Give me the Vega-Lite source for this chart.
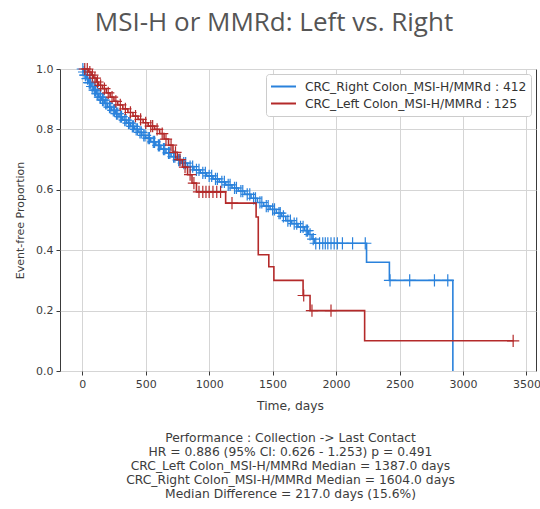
{
  "$schema": "https://vega.github.io/schema/vega-lite/v6.json",
  "width": 476,
  "height": 302,
  "autosize": {"type": "none"},
  "padding": {"left": 60, "top": 69, "right": 4, "bottom": 138},
  "background": "white",
  "title": {
    "text": "MSI-H or MMRd: Left vs. Right",
    "font": "Open Sans",
    "fontSize": 26,
    "fontWeight": "normal",
    "color": "#555555",
    "anchor": "middle",
    "frame": "group",
    "dx": -24,
    "offset": 24
  },
  "config": {
    "view": {"stroke": "#3a3a3a", "strokeWidth": 1},
    "axis": {
      "labelFont": "DejaVu Sans",
      "titleFont": "DejaVu Sans",
      "labelFontSize": 11,
      "titleFontSize": 11,
      "titleFontWeight": "normal",
      "labelColor": "#3c3c3c",
      "titleColor": "#3c3c3c",
      "gridColor": "#d5d5d5",
      "gridWidth": 1,
      "tickColor": "#3a3a3a",
      "tickSize": 4,
      "domain": false
    }
  },
  "datasets": {
    "steps": [
      {"group": "Right", "t": 0, "s": 1.0},
      {"group": "Right", "t": 10, "s": 0.99},
      {"group": "Right", "t": 20, "s": 0.98},
      {"group": "Right", "t": 35, "s": 0.968},
      {"group": "Right", "t": 50, "s": 0.955},
      {"group": "Right", "t": 70, "s": 0.942},
      {"group": "Right", "t": 90, "s": 0.93},
      {"group": "Right", "t": 110, "s": 0.918},
      {"group": "Right", "t": 130, "s": 0.907},
      {"group": "Right", "t": 150, "s": 0.897},
      {"group": "Right", "t": 175, "s": 0.886},
      {"group": "Right", "t": 200, "s": 0.874},
      {"group": "Right", "t": 230, "s": 0.863},
      {"group": "Right", "t": 260, "s": 0.852},
      {"group": "Right", "t": 290, "s": 0.842},
      {"group": "Right", "t": 320, "s": 0.831},
      {"group": "Right", "t": 350, "s": 0.821},
      {"group": "Right", "t": 380, "s": 0.81},
      {"group": "Right", "t": 410, "s": 0.8},
      {"group": "Right", "t": 440, "s": 0.79},
      {"group": "Right", "t": 470, "s": 0.78},
      {"group": "Right", "t": 500, "s": 0.771},
      {"group": "Right", "t": 540, "s": 0.759},
      {"group": "Right", "t": 580, "s": 0.747},
      {"group": "Right", "t": 620, "s": 0.735},
      {"group": "Right", "t": 660, "s": 0.722},
      {"group": "Right", "t": 700, "s": 0.71},
      {"group": "Right", "t": 740, "s": 0.698},
      {"group": "Right", "t": 780, "s": 0.688},
      {"group": "Right", "t": 830, "s": 0.677},
      {"group": "Right", "t": 880, "s": 0.666},
      {"group": "Right", "t": 930, "s": 0.656},
      {"group": "Right", "t": 980, "s": 0.646},
      {"group": "Right", "t": 1030, "s": 0.636},
      {"group": "Right", "t": 1080, "s": 0.626},
      {"group": "Right", "t": 1130, "s": 0.616},
      {"group": "Right", "t": 1180, "s": 0.606},
      {"group": "Right", "t": 1230, "s": 0.596},
      {"group": "Right", "t": 1280, "s": 0.585},
      {"group": "Right", "t": 1330, "s": 0.572},
      {"group": "Right", "t": 1380, "s": 0.558},
      {"group": "Right", "t": 1430, "s": 0.546},
      {"group": "Right", "t": 1480, "s": 0.535},
      {"group": "Right", "t": 1530, "s": 0.523},
      {"group": "Right", "t": 1570, "s": 0.512},
      {"group": "Right", "t": 1604, "s": 0.498},
      {"group": "Right", "t": 1650, "s": 0.488},
      {"group": "Right", "t": 1700, "s": 0.477},
      {"group": "Right", "t": 1750, "s": 0.465},
      {"group": "Right", "t": 1785, "s": 0.452},
      {"group": "Right", "t": 1810, "s": 0.437},
      {"group": "Right", "t": 1830, "s": 0.423},
      {"group": "Right", "t": 2240, "s": 0.36},
      {"group": "Right", "t": 2420, "s": 0.3},
      {"group": "Right", "t": 2920, "s": 0.0},
      {"group": "Left", "t": 0, "s": 1.0},
      {"group": "Left", "t": 50, "s": 0.99},
      {"group": "Left", "t": 70, "s": 0.98},
      {"group": "Left", "t": 90, "s": 0.97},
      {"group": "Left", "t": 110, "s": 0.957},
      {"group": "Left", "t": 130, "s": 0.946},
      {"group": "Left", "t": 160, "s": 0.935},
      {"group": "Left", "t": 190, "s": 0.921},
      {"group": "Left", "t": 220, "s": 0.907},
      {"group": "Left", "t": 250, "s": 0.893},
      {"group": "Left", "t": 280, "s": 0.881},
      {"group": "Left", "t": 320, "s": 0.868},
      {"group": "Left", "t": 360, "s": 0.856},
      {"group": "Left", "t": 400, "s": 0.844},
      {"group": "Left", "t": 440, "s": 0.833},
      {"group": "Left", "t": 480, "s": 0.822},
      {"group": "Left", "t": 520, "s": 0.811},
      {"group": "Left", "t": 570, "s": 0.8},
      {"group": "Left", "t": 610, "s": 0.786},
      {"group": "Left", "t": 645, "s": 0.768},
      {"group": "Left", "t": 680, "s": 0.748},
      {"group": "Left", "t": 715, "s": 0.724},
      {"group": "Left", "t": 750, "s": 0.7},
      {"group": "Left", "t": 790, "s": 0.675},
      {"group": "Left", "t": 830, "s": 0.65},
      {"group": "Left", "t": 865, "s": 0.622},
      {"group": "Left", "t": 900, "s": 0.593},
      {"group": "Left", "t": 1130, "s": 0.556},
      {"group": "Left", "t": 1370, "s": 0.51},
      {"group": "Left", "t": 1387, "s": 0.385},
      {"group": "Left", "t": 1470, "s": 0.345},
      {"group": "Left", "t": 1510, "s": 0.3},
      {"group": "Left", "t": 1740, "s": 0.25},
      {"group": "Left", "t": 1795, "s": 0.2},
      {"group": "Left", "t": 2225, "s": 0.1},
      {"group": "Left", "t": 3400, "s": 0.1}
    ],
    "censors": [
      {"group": "Right", "t": 5, "s": 1.0},
      {"group": "Right", "t": 15, "s": 0.99},
      {"group": "Right", "t": 25, "s": 0.98},
      {"group": "Right", "t": 28, "s": 0.98},
      {"group": "Right", "t": 42, "s": 0.968},
      {"group": "Right", "t": 55, "s": 0.955},
      {"group": "Right", "t": 60, "s": 0.955},
      {"group": "Right", "t": 65, "s": 0.955},
      {"group": "Right", "t": 78, "s": 0.942},
      {"group": "Right", "t": 85, "s": 0.942},
      {"group": "Right", "t": 98, "s": 0.93},
      {"group": "Right", "t": 105, "s": 0.93},
      {"group": "Right", "t": 118, "s": 0.918},
      {"group": "Right", "t": 125, "s": 0.918},
      {"group": "Right", "t": 140, "s": 0.907},
      {"group": "Right", "t": 145, "s": 0.907},
      {"group": "Right", "t": 160, "s": 0.897},
      {"group": "Right", "t": 170, "s": 0.897},
      {"group": "Right", "t": 185, "s": 0.886},
      {"group": "Right", "t": 195, "s": 0.886},
      {"group": "Right", "t": 215, "s": 0.874},
      {"group": "Right", "t": 225, "s": 0.874},
      {"group": "Right", "t": 245, "s": 0.863},
      {"group": "Right", "t": 255, "s": 0.863},
      {"group": "Right", "t": 270, "s": 0.852},
      {"group": "Right", "t": 280, "s": 0.852},
      {"group": "Right", "t": 300, "s": 0.842},
      {"group": "Right", "t": 310, "s": 0.842},
      {"group": "Right", "t": 335, "s": 0.831},
      {"group": "Right", "t": 345, "s": 0.831},
      {"group": "Right", "t": 365, "s": 0.821},
      {"group": "Right", "t": 375, "s": 0.821},
      {"group": "Right", "t": 395, "s": 0.81},
      {"group": "Right", "t": 405, "s": 0.81},
      {"group": "Right", "t": 425, "s": 0.8},
      {"group": "Right", "t": 435, "s": 0.8},
      {"group": "Right", "t": 455, "s": 0.79},
      {"group": "Right", "t": 465, "s": 0.79},
      {"group": "Right", "t": 485, "s": 0.78},
      {"group": "Right", "t": 495, "s": 0.78},
      {"group": "Right", "t": 520, "s": 0.771},
      {"group": "Right", "t": 530, "s": 0.771},
      {"group": "Right", "t": 560, "s": 0.759},
      {"group": "Right", "t": 570, "s": 0.759},
      {"group": "Right", "t": 600, "s": 0.747},
      {"group": "Right", "t": 610, "s": 0.747},
      {"group": "Right", "t": 640, "s": 0.735},
      {"group": "Right", "t": 650, "s": 0.735},
      {"group": "Right", "t": 680, "s": 0.722},
      {"group": "Right", "t": 690, "s": 0.722},
      {"group": "Right", "t": 720, "s": 0.71},
      {"group": "Right", "t": 730, "s": 0.71},
      {"group": "Right", "t": 760, "s": 0.698},
      {"group": "Right", "t": 770, "s": 0.698},
      {"group": "Right", "t": 800, "s": 0.688},
      {"group": "Right", "t": 815, "s": 0.688},
      {"group": "Right", "t": 850, "s": 0.677},
      {"group": "Right", "t": 870, "s": 0.677},
      {"group": "Right", "t": 900, "s": 0.666},
      {"group": "Right", "t": 920, "s": 0.666},
      {"group": "Right", "t": 950, "s": 0.656},
      {"group": "Right", "t": 970, "s": 0.656},
      {"group": "Right", "t": 1000, "s": 0.646},
      {"group": "Right", "t": 1020, "s": 0.646},
      {"group": "Right", "t": 1050, "s": 0.636},
      {"group": "Right", "t": 1065, "s": 0.636},
      {"group": "Right", "t": 1100, "s": 0.626},
      {"group": "Right", "t": 1120, "s": 0.626},
      {"group": "Right", "t": 1150, "s": 0.616},
      {"group": "Right", "t": 1165, "s": 0.616},
      {"group": "Right", "t": 1200, "s": 0.606},
      {"group": "Right", "t": 1215, "s": 0.606},
      {"group": "Right", "t": 1250, "s": 0.596},
      {"group": "Right", "t": 1265, "s": 0.596},
      {"group": "Right", "t": 1300, "s": 0.585},
      {"group": "Right", "t": 1320, "s": 0.585},
      {"group": "Right", "t": 1350, "s": 0.572},
      {"group": "Right", "t": 1365, "s": 0.572},
      {"group": "Right", "t": 1400, "s": 0.558},
      {"group": "Right", "t": 1415, "s": 0.558},
      {"group": "Right", "t": 1450, "s": 0.546},
      {"group": "Right", "t": 1465, "s": 0.546},
      {"group": "Right", "t": 1500, "s": 0.535},
      {"group": "Right", "t": 1515, "s": 0.535},
      {"group": "Right", "t": 1550, "s": 0.523},
      {"group": "Right", "t": 1560, "s": 0.523},
      {"group": "Right", "t": 1585, "s": 0.512},
      {"group": "Right", "t": 1620, "s": 0.498},
      {"group": "Right", "t": 1640, "s": 0.498},
      {"group": "Right", "t": 1670, "s": 0.488},
      {"group": "Right", "t": 1690, "s": 0.488},
      {"group": "Right", "t": 1720, "s": 0.477},
      {"group": "Right", "t": 1740, "s": 0.477},
      {"group": "Right", "t": 1765, "s": 0.465},
      {"group": "Right", "t": 1775, "s": 0.465},
      {"group": "Right", "t": 1795, "s": 0.452},
      {"group": "Right", "t": 1820, "s": 0.437},
      {"group": "Right", "t": 1840, "s": 0.423},
      {"group": "Right", "t": 1870, "s": 0.423},
      {"group": "Right", "t": 1895, "s": 0.423},
      {"group": "Right", "t": 1915, "s": 0.423},
      {"group": "Right", "t": 1935, "s": 0.423},
      {"group": "Right", "t": 1960, "s": 0.423},
      {"group": "Right", "t": 1985, "s": 0.423},
      {"group": "Right", "t": 2010, "s": 0.423},
      {"group": "Right", "t": 2050, "s": 0.423},
      {"group": "Right", "t": 2130, "s": 0.423},
      {"group": "Right", "t": 2230, "s": 0.423},
      {"group": "Right", "t": 2425, "s": 0.3},
      {"group": "Right", "t": 2580, "s": 0.3},
      {"group": "Right", "t": 2775, "s": 0.3},
      {"group": "Right", "t": 2880, "s": 0.3},
      {"group": "Left", "t": 20, "s": 1.0},
      {"group": "Left", "t": 40, "s": 1.0},
      {"group": "Left", "t": 60, "s": 0.99},
      {"group": "Left", "t": 80, "s": 0.98},
      {"group": "Left", "t": 100, "s": 0.97},
      {"group": "Left", "t": 120, "s": 0.957},
      {"group": "Left", "t": 145, "s": 0.946},
      {"group": "Left", "t": 175, "s": 0.935},
      {"group": "Left", "t": 205, "s": 0.921},
      {"group": "Left", "t": 235, "s": 0.907},
      {"group": "Left", "t": 265, "s": 0.893},
      {"group": "Left", "t": 300, "s": 0.881},
      {"group": "Left", "t": 340, "s": 0.868},
      {"group": "Left", "t": 380, "s": 0.856},
      {"group": "Left", "t": 420, "s": 0.844},
      {"group": "Left", "t": 460, "s": 0.833},
      {"group": "Left", "t": 500, "s": 0.822},
      {"group": "Left", "t": 540, "s": 0.811},
      {"group": "Left", "t": 555, "s": 0.811},
      {"group": "Left", "t": 590, "s": 0.8},
      {"group": "Left", "t": 630, "s": 0.786},
      {"group": "Left", "t": 660, "s": 0.768},
      {"group": "Left", "t": 700, "s": 0.748},
      {"group": "Left", "t": 735, "s": 0.724},
      {"group": "Left", "t": 770, "s": 0.7},
      {"group": "Left", "t": 810, "s": 0.675},
      {"group": "Left", "t": 850, "s": 0.65},
      {"group": "Left", "t": 880, "s": 0.622},
      {"group": "Left", "t": 920, "s": 0.593},
      {"group": "Left", "t": 950, "s": 0.593},
      {"group": "Left", "t": 975, "s": 0.593},
      {"group": "Left", "t": 1000, "s": 0.593},
      {"group": "Left", "t": 1030, "s": 0.593},
      {"group": "Left", "t": 1060, "s": 0.593},
      {"group": "Left", "t": 1090, "s": 0.593},
      {"group": "Left", "t": 1180, "s": 0.556},
      {"group": "Left", "t": 1745, "s": 0.25},
      {"group": "Left", "t": 1810, "s": 0.2},
      {"group": "Left", "t": 1960, "s": 0.2},
      {"group": "Left", "t": 3395, "s": 0.1}
    ]
  },
  "encoding": {
    "y": {
      "field": "s",
      "type": "quantitative",
      "scale": {"domain": [0, 1], "nice": false},
      "axis": {
        "values": [0, 0.2, 0.4, 0.6, 0.8, 1.0],
        "format": ".1f",
        "labelPadding": 3,
        "titlePadding": 10,
        "title": "Event-free Proportion"
      }
    },
    "color": {
      "field": "group",
      "type": "nominal",
      "scale": {"domain": ["Right", "Left"], "range": ["#2a82dc", "#b42a2a"]},
      "legend": {
        "title": null,
        "orient": "top-right",
        "offset": 5,
        "symbolType": "stroke",
        "symbolSize": 625,
        "symbolStrokeWidth": 2,
        "clipHeight": 17,
        "labelFont": "DejaVu Sans",
        "labelFontSize": 12.3,
        "labelColor": "#333333",
        "labelLimit": 400,
        "labelOffset": 8,
        "fillColor": "white",
        "strokeColor": "#cccccc",
        "padding": 4,
        "cornerRadius": 3,
        "rowPadding": 0,
        "labelExpr": "datum.label == 'Right' ? 'CRC_Right Colon_MSI-H/MMRd : 412' : 'CRC_Left Colon_MSI-H/MMRd : 125'"
      }
    }
  },
  "resolve": {"axis": {"x": "independent"}},
  "layer": [
    {
      "encoding": {
        "x": {
          "field": "t",
          "type": "quantitative",
          "scale": {"domain": [-175, 3575], "nice": false, "zero": false},
          "axis": {
            "orient": "bottom",
            "values": [0, 500, 1000, 1500, 2000, 2500, 3000, 3500],
            "format": "d",
            "labelPadding": 3,
            "titlePadding": 10,
            "titleFontSize": 12.3,
            "titleX": 230,
            "title": "Time, days"
          }
        }
      },
      "layer": [
        {
          "data": {"name": "steps"},
          "transform": [{"filter": "datum.group == 'Right'"}],
          "mark": {"type": "line", "interpolate": "step-after", "strokeWidth": 1.6}
        },
        {
          "data": {"name": "censors"},
          "transform": [{"filter": "datum.group == 'Right'"}],
          "mark": {"type": "point", "shape": "M-1,0H1M0,-1V1", "size": 150, "filled": false, "strokeWidth": 1.2, "opacity": 1}
        },
        {
          "data": {"name": "steps"},
          "transform": [{"filter": "datum.group == 'Left'"}],
          "mark": {"type": "line", "interpolate": "step-after", "strokeWidth": 1.6}
        }
      ]
    },
    {
      "data": {"name": "censors"},
      "transform": [{"filter": "datum.group == 'Left'"}],
      "mark": {"type": "point", "shape": "M-1,0H1M0,-1V1", "size": 150, "filled": false, "strokeWidth": 1.2, "opacity": 1},
      "encoding": {
        "x": {
          "field": "t",
          "type": "quantitative",
          "scale": {"domain": [-175, 3575], "nice": false, "zero": false},
          "axis": {
            "orient": "bottom",
            "labels": false,
            "ticks": false,
            "grid": false,
            "domain": false,
            "titlePadding": 60,
            "titleFontSize": 12.3,
            "titleLineHeight": 14,
            "titleX": 230,
            "title": [
              "Performance : Collection -> Last Contact",
              "HR = 0.886 (95% CI: 0.626 - 1.253) p = 0.491",
              "CRC_Left Colon_MSI-H/MMRd Median = 1387.0 days",
              "CRC_Right Colon_MSI-H/MMRd Median = 1604.0 days",
              "Median Difference = 217.0 days (15.6%)"
            ]
          }
        }
      }
    }
  ]
}
